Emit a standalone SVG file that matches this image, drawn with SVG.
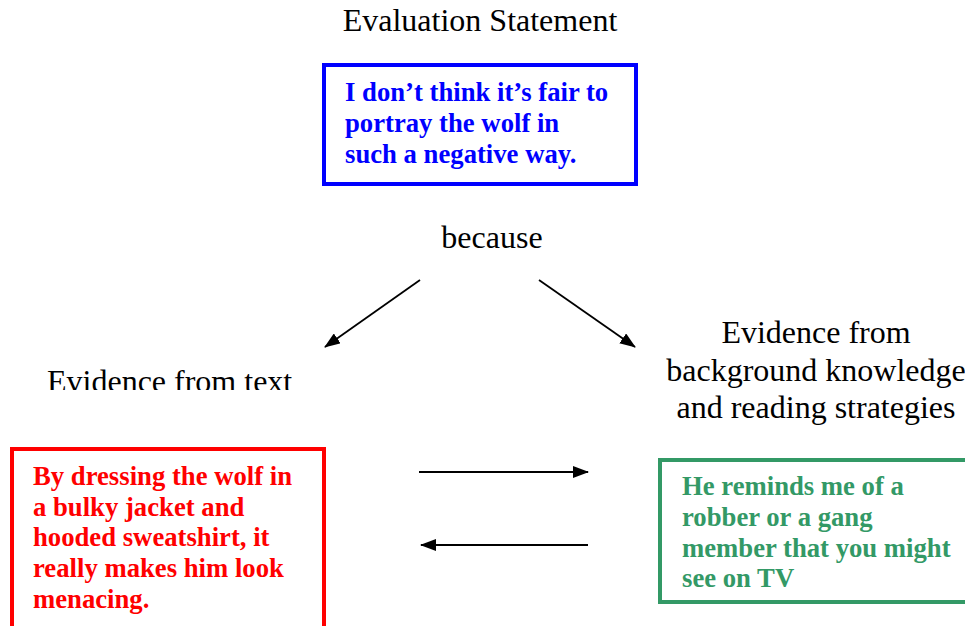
<svg xmlns="http://www.w3.org/2000/svg" width="965" height="626" viewBox="0 0 965 626">
<style>
.lbl{font-family:"Liberation Serif","Times New Roman",serif;font-size:32px;fill:#000}
.bt{font-family:"Liberation Serif","Times New Roman",serif;font-size:26.7px;font-weight:bold}
.conn{stroke:#000;stroke-width:1.8;fill:none;marker-end:url(#ah)}
</style>
<defs>
<marker id="ah" viewBox="0 0 16 12" refX="15" refY="6" markerWidth="16" markerHeight="12" markerUnits="userSpaceOnUse" orient="auto">
<path d="M0,0 L16,6 L0,12 z" fill="#000"/>
</marker>
<clipPath id="clipEv"><rect x="0" y="0" width="400" height="390"/></clipPath>
</defs>
<rect width="965" height="626" fill="#fff"/>
<g id="title"><text class="lbl" x="480" y="31" text-anchor="middle">Evaluation Statement</text></g>
<g id="evaluation">
<rect x="324" y="65" width="312" height="119" fill="none" stroke="#0000ff" stroke-width="4"/>
<text class="bt" fill="#0000ff"><tspan x="345" y="101">I don’t think it’s fair to</tspan><tspan x="345" y="132">portray the wolf in</tspan><tspan x="345" y="163">such a negative way.</tspan></text>
</g>
<g id="because"><text class="lbl" x="492" y="248" text-anchor="middle">because</text></g>
<g id="evidence-text-label" clip-path="url(#clipEv)"><text class="lbl" x="47" y="392">Evidence from text</text></g>
<g id="evidence-bg-label"><text class="lbl" text-anchor="middle"><tspan x="816" y="343">Evidence from</tspan><tspan x="816" y="381">background knowledge</tspan><tspan x="816" y="418">and reading strategies</tspan></text></g>
<g id="evidence-text">
<rect x="12" y="449" width="312" height="200" fill="none" stroke="#ff0000" stroke-width="4"/>
<text class="bt" fill="#ff0000"><tspan x="33" y="485">By dressing the wolf in</tspan><tspan x="33" y="516">a bulky jacket and</tspan><tspan x="33" y="546">hooded sweatshirt, it</tspan><tspan x="33" y="577">really makes him look</tspan><tspan x="33" y="608">menacing.</tspan></text>
</g>
<g id="evidence-bg">
<rect x="660" y="460" width="340" height="142" fill="none" stroke="#339966" stroke-width="4"/>
<text class="bt" fill="#339966"><tspan x="682" y="495">He reminds me of a</tspan><tspan x="682" y="526">robber or a gang</tspan><tspan x="682" y="557">member that you might</tspan><tspan x="682" y="587">see on TV</tspan></text>
</g>
<g id="connectors">
<line class="conn" x1="420" y1="280" x2="325" y2="347"/>
<line class="conn" x1="539" y1="280" x2="635" y2="347"/>
<line class="conn" x1="419" y1="472" x2="588" y2="472"/>
<line class="conn" x1="588" y1="545" x2="421" y2="545"/>
</g>
</svg>
